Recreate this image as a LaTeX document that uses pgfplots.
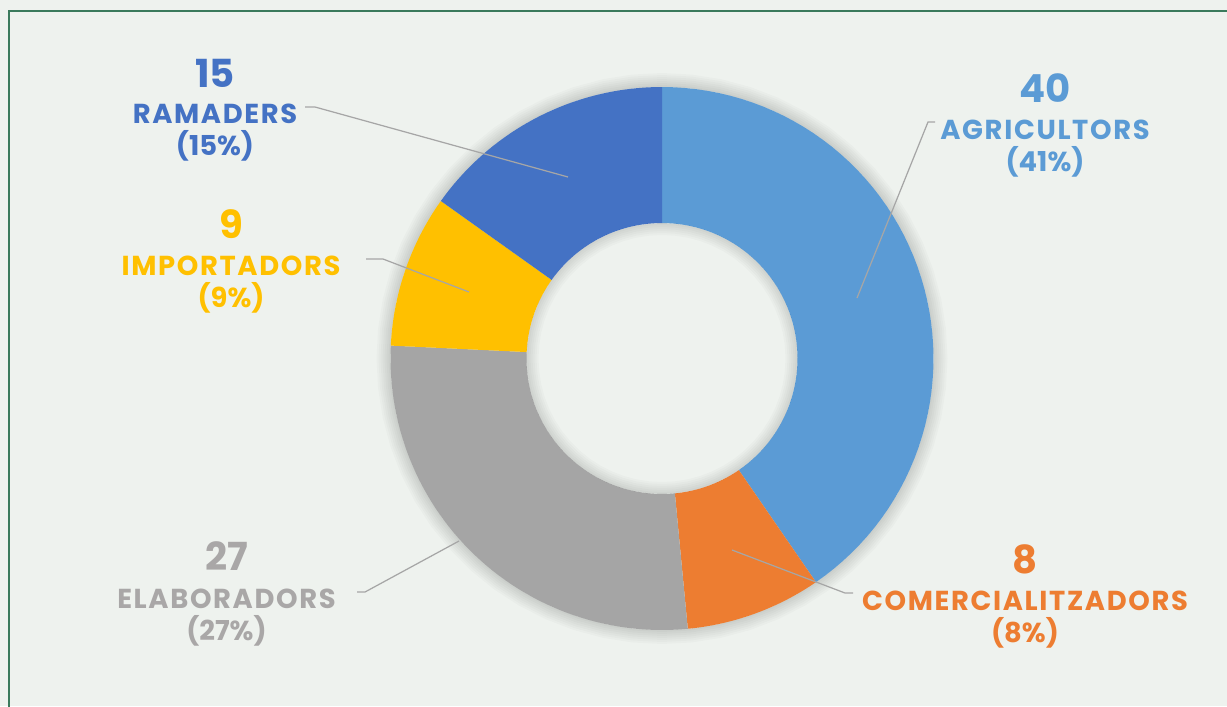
\documentclass[border=0pt]{standalone}
\usepackage{pgfplots}
\pgfplotsset{compat=1.18}
\usepackage{fontspec}
\setmainfont{Poppins}
\newfontfamily\labfam[LetterSpace=6]{Poppins}
\definecolor{bg}{HTML}{EEF2EE}
\definecolor{frame}{HTML}{3A7A5C}
\definecolor{cAgr}{HTML}{5B9BD5}
\definecolor{cCom}{HTML}{ED7D31}
\definecolor{cEla}{HTML}{A5A5A5}
\definecolor{tEla}{HTML}{A9A7A7}
\definecolor{cImp}{HTML}{FFC000}
\definecolor{cRam}{HTML}{4472C4}
\definecolor{lead}{HTML}{A6A6A6}
% data
\def\vAgr{40}\def\vCom{8}\def\vEla{27}\def\vImp{9}\def\vRam{15}
\pgfmathsetmacro{\tot}{\vAgr+\vCom+\vEla+\vImp+\vRam}
\pgfmathsetmacro{\aA}{90}
\pgfmathsetmacro{\aB}{\aA-360*\vAgr/\tot}
\pgfmathsetmacro{\aC}{\aB-360*\vCom/\tot}
\pgfmathsetmacro{\aD}{\aC-360*\vEla/\tot}
\pgfmathsetmacro{\aE}{\aD-360*\vImp/\tot}
\pgfmathsetmacro{\aF}{\aE-360*\vRam/\tot}
\def\cx{662}\def\cy{347.5}\def\Ro{271.5}\def\Ri{135.5}
\newcommand{\ringsector}[5]{%
 \addplot[#5, draw=none, domain=0:3, samples=181, variable=\t]
 ({\cx+((\t<1)?(#2):((\t<2)?((#2)-((#2)-(#1))*(\t-1)):(#1)))*cos((\t<1)?((#3)+((#4)-(#3))*\t):((\t<2)?(#4):((#4)+((#3)-(#4))*(\t-2))))},
  {\cy+((\t<1)?(#2):((\t<2)?((#2)-((#2)-(#1))*(\t-1)):(#1)))*sin((\t<1)?((#3)+((#4)-(#3))*\t):((\t<2)?(#4):((#4)+((#3)-(#4))*(\t-2))))});
}
\newcommand{\numfont}{\bfseries\fontsize{11}{13}\selectfont}
\newcommand{\labfont}{\labfam\bfseries\fontsize{7.8}{9}\selectfont}
\newcommand{\pctfont}{\bfseries\fontsize{7.8}{9}\selectfont}
\begin{document}
\begin{tikzpicture}
\begin{axis}[
  width=12.27cm, height=7.06cm, scale only axis,
  xmin=0, xmax=1227, ymin=0, ymax=706,
  hide axis, clip=true,
]
% background
\addplot[fill=bg, draw=none] coordinates {(0,0) (1227,0) (1227,706) (0,706)} -- cycle;
% frame
\addplot[frame, line width=0.45pt] coordinates {(9,-10) (9,695) (1240,695)};
% outer shadow
\pgfplotsinvokeforeach{1,...,7}{\ringsector{\Ro}{\Ro+2*#1}{0}{360}{fill=black, fill opacity=0.018}}
% slices
\ringsector{\Ri}{\Ro}{\aA}{\aB}{fill=cAgr}
\ringsector{\Ri}{\Ro}{\aB}{\aC}{fill=cCom}
\ringsector{\Ri}{\Ro}{\aC}{\aD}{fill=cEla}
\ringsector{\Ri}{\Ro}{\aD}{\aE}{fill=cImp}
\ringsector{\Ri}{\Ro}{\aE}{\aF}{fill=cRam}
% inner shadow
\pgfplotsinvokeforeach{1,...,6}{\ringsector{\Ri-2*#1}{\Ri}{0}{360}{fill=black, fill opacity=0.02}}
% leader lines (image y flipped: y = 706 - y_img)
\addplot[lead, line width=0.35pt] coordinates {(857,408) (928,584) (935,584)};
\addplot[lead, line width=0.35pt] coordinates {(732,156) (845,113) (853,113)};
\addplot[lead, line width=0.35pt] coordinates {(459,165) (365,114) (357,114)};
\addplot[lead, line width=0.35pt] coordinates {(469,414) (383,447) (366,447)};
\addplot[lead, line width=0.35pt] coordinates {(568,529) (315,599) (305,599)};
% labels
\node[anchor=base, text=cAgr, font=\numfont] at (axis cs:1045,604) {40};
\node[anchor=base, text=cAgr, font=\labfont] at (axis cs:1045,567) {AGRICULTORS};
\node[anchor=base, text=cAgr, font=\pctfont] at (axis cs:1045,535) {(41\%)};
\node[anchor=base, text=cCom, font=\numfont] at (axis cs:1025,133) {8};
\node[anchor=base, text=cCom, font=\labfont] at (axis cs:1025,96) {COMERCIALITZADORS};
\node[anchor=base, text=cCom, font=\pctfont] at (axis cs:1025,64) {(8\%)};
\node[anchor=base, text=tEla, font=\numfont] at (axis cs:226.5,136) {27};
\node[anchor=base, text=tEla, font=\labfont] at (axis cs:226.5,98) {ELABORADORS};
\node[anchor=base, text=tEla, font=\pctfont] at (axis cs:226.5,66) {(27\%)};
\node[anchor=base, text=cImp, font=\numfont] at (axis cs:231,468) {9};
\node[anchor=base, text=cImp, font=\labfont] at (axis cs:231,431) {IMPORTADORS};
\node[anchor=base, text=cImp, font=\pctfont] at (axis cs:231,399) {(9\%)};
\node[anchor=base, text=cRam, font=\numfont] at (axis cs:215,619) {15};
\node[anchor=base, text=cRam, font=\labfont] at (axis cs:215,583) {RAMADERS};
\node[anchor=base, text=cRam, font=\pctfont] at (axis cs:215,551) {(15\%)};
\end{axis}
\end{tikzpicture}
\end{document}
